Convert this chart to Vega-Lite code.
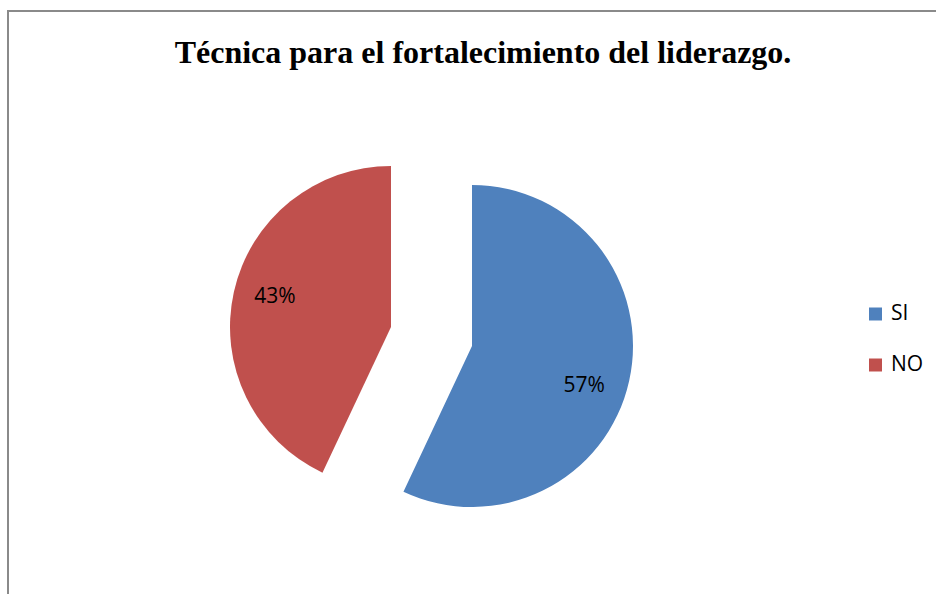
{
  "$schema": "https://vega.github.io/schema/vega-lite/v6.json",
  "autosize": {"type": "none"},
  "width": 934,
  "height": 589,
  "padding": {"left": 8, "top": 11, "right": -6, "bottom": -6},
  "background": "white",
  "view": {"stroke": "#8a8a8a", "strokeWidth": 2},
  "config": {
    "view": {"stroke": "#8a8a8a", "strokeWidth": 2}
  },
  "title": {
    "text": "Técnica para el fortalecimiento del liderazgo.",
    "font": "Liberation Serif",
    "fontSize": 32,
    "fontWeight": "bold",
    "color": "#000000",
    "anchor": "middle",
    "frame": "group",
    "baseline": "alphabetic",
    "offset": -53,
    "dx": 8,
    "dy": 31
  },
  "data": {
    "values": [
      {"respuesta": "SI", "porcentaje": 57, "etiqueta": "57%"},
      {"respuesta": "NO", "porcentaje": 43, "etiqueta": "43%"}
    ]
  },
  "encoding": {
    "theta": {"field": "porcentaje", "type": "quantitative", "stack": true},
    "order": {"field": "porcentaje", "sort": "descending"}
  },
  "layer": [
    {
      "mark": {"type": "arc", "radius": 161, "xOffset": -3, "yOffset": 40.5},
      "encoding": {
        "color": {
          "field": "respuesta",
          "type": "nominal",
          "scale": {"domain": ["SI", "NO"], "range": ["#4F81BD", "#C0504D"]},
          "legend": {
            "title": null,
            "orient": "none",
            "legendX": 857,
            "legendY": 292.5,
            "symbolType": "square",
            "symbolSize": 169,
            "symbolStrokeWidth": 0,
            "labelFont": "Open Sans",
            "labelFontSize": 21,
            "labelColor": "#000000",
            "labelOffset": 5,
            "rowPadding": 29,
            "padding": 0
          }
        },
        "opacity": {"condition": {"test": "datum.respuesta === 'SI'", "value": 1}, "value": 0}
      }
    },
    {
      "mark": {"type": "arc", "radius": 161, "xOffset": -84, "yOffset": 21.5},
      "encoding": {
        "color": {"field": "respuesta", "type": "nominal"},
        "opacity": {"condition": {"test": "datum.respuesta === 'NO'", "value": 1}, "value": 0}
      }
    },
    {
      "mark": {"type": "text", "radius": 120, "xOffset": -8, "yOffset": 54, "font": "Open Sans", "fontSize": 21, "color": "#000000"},
      "encoding": {
        "text": {"field": "etiqueta", "type": "nominal"},
        "opacity": {"condition": {"test": "datum.respuesta === 'SI'", "value": 1}, "value": 0}
      }
    },
    {
      "mark": {"type": "text", "radius": 120, "xOffset": -83, "yOffset": 17.5, "font": "Open Sans", "fontSize": 21, "color": "#000000"},
      "encoding": {
        "text": {"field": "etiqueta", "type": "nominal"},
        "opacity": {"condition": {"test": "datum.respuesta === 'NO'", "value": 1}, "value": 0}
      }
    }
  ]
}
